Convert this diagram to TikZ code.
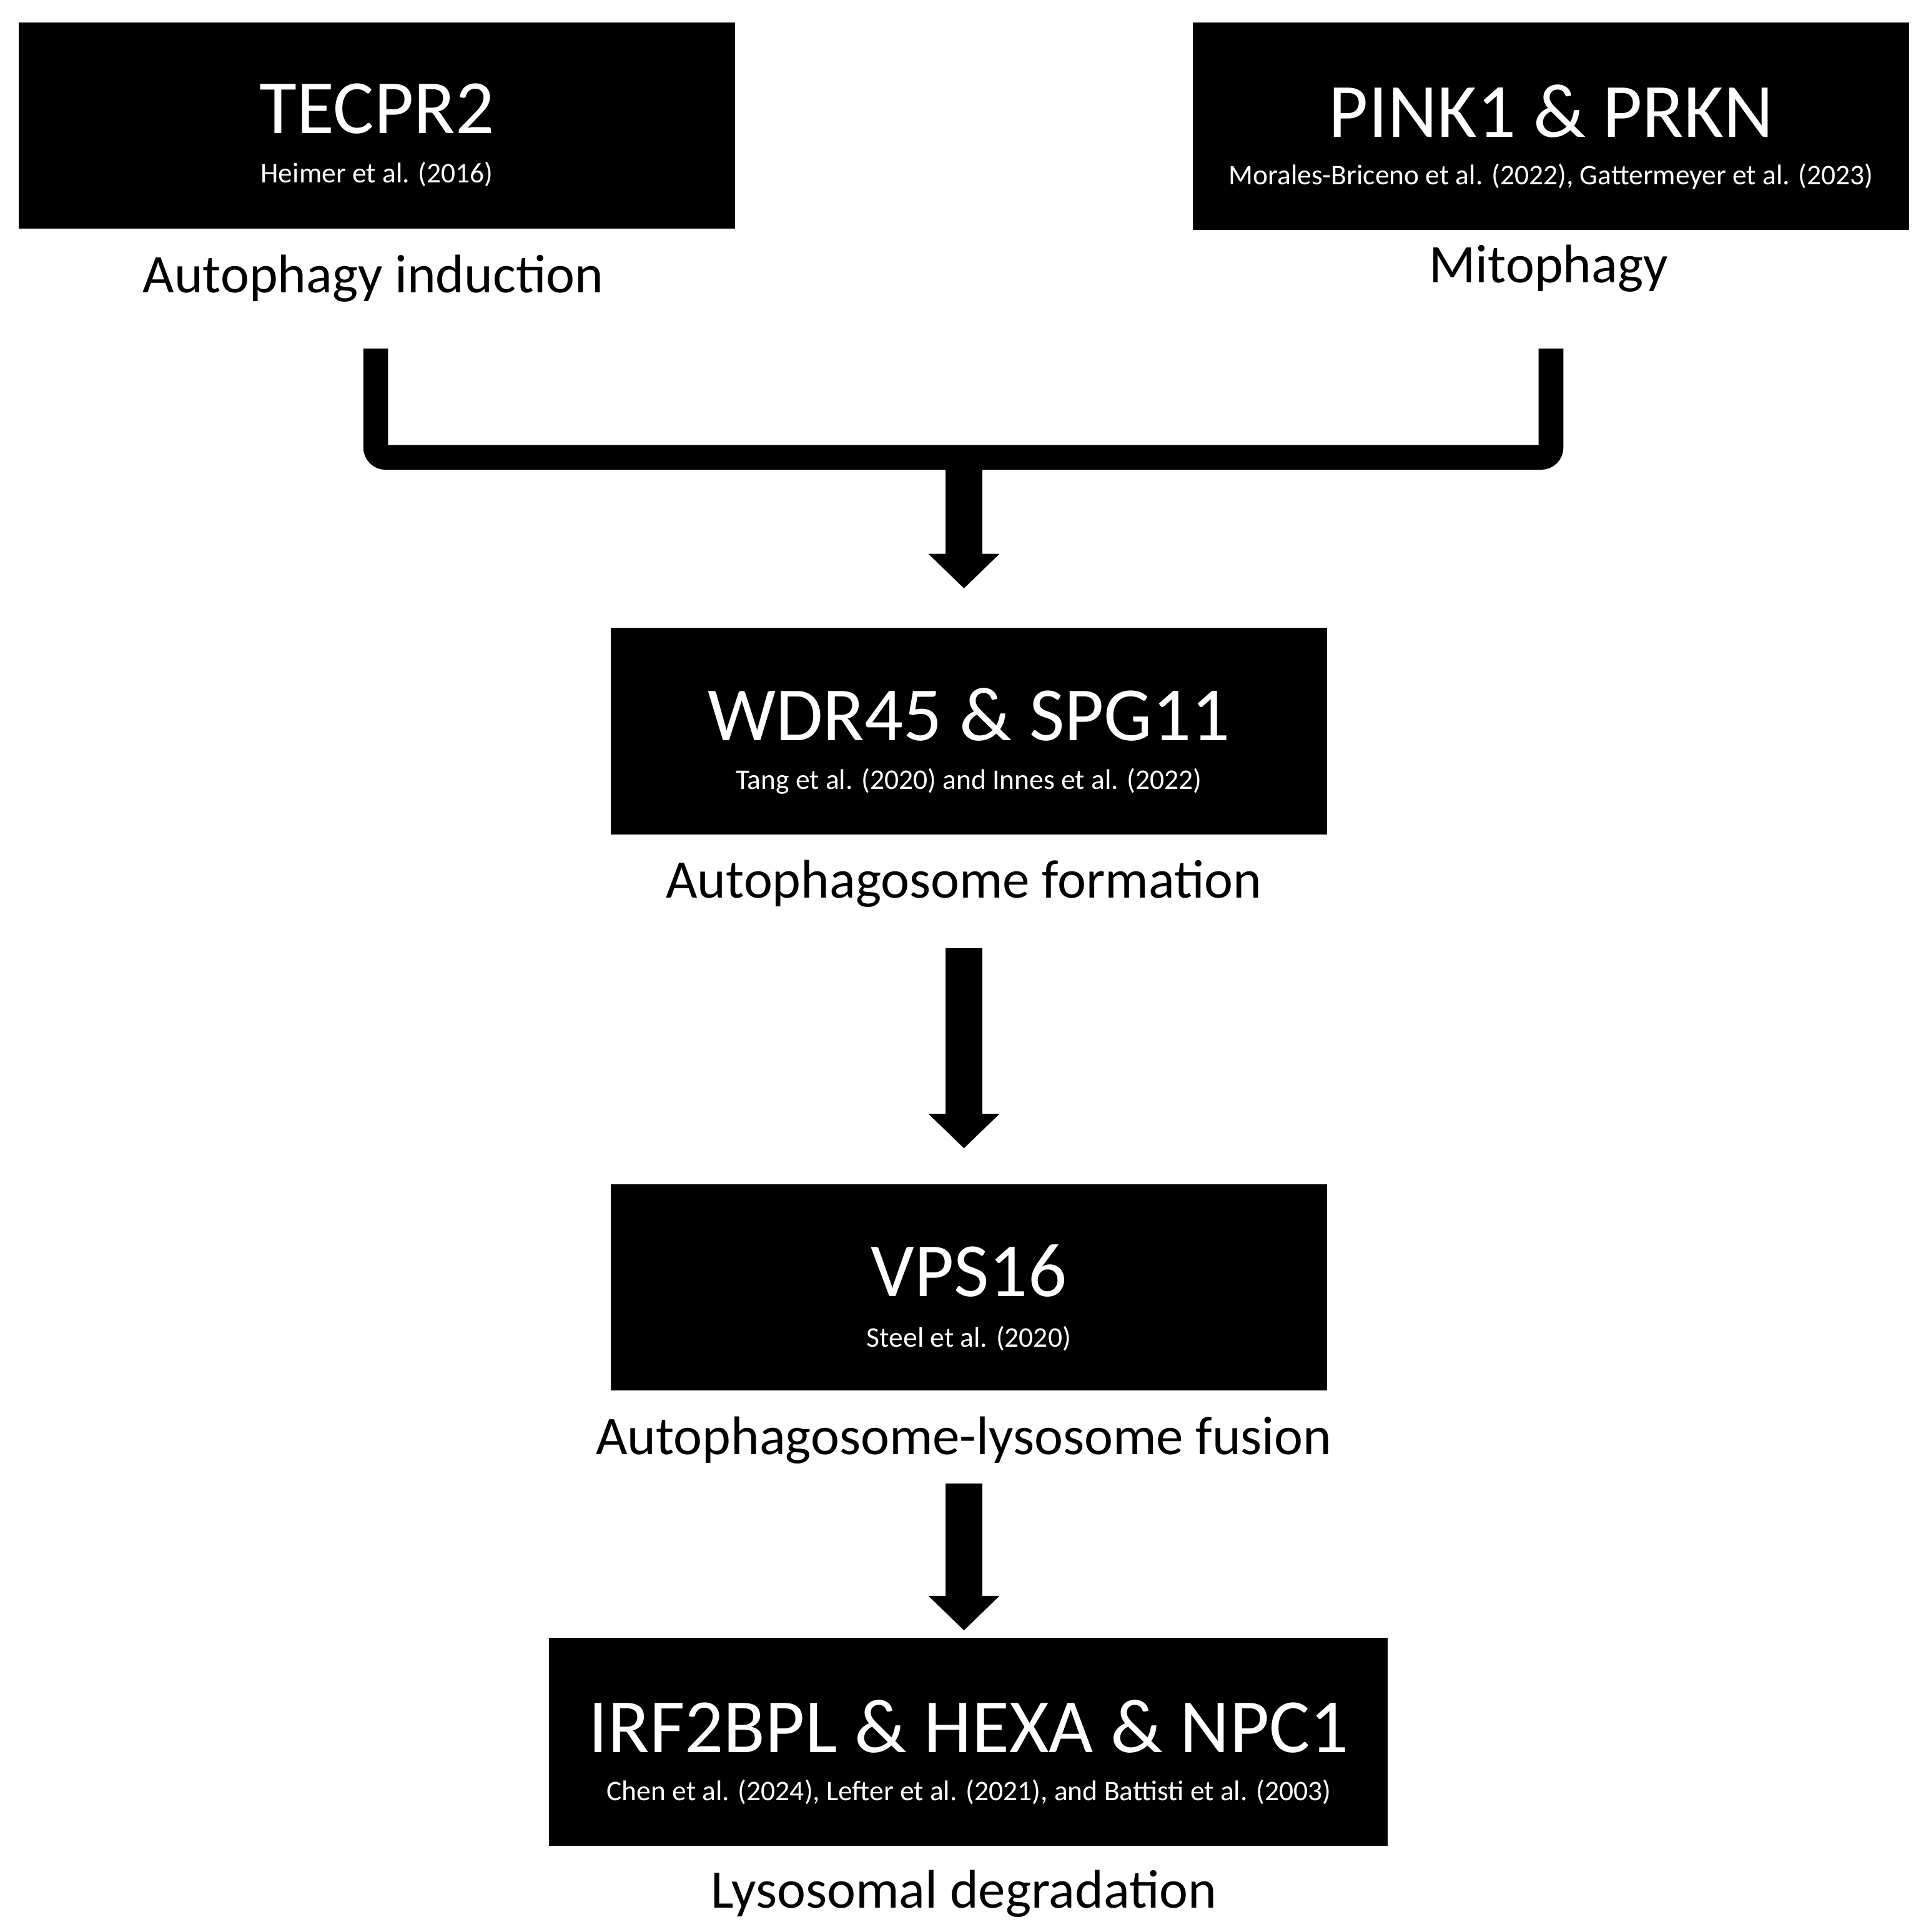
\documentclass[tikz,border=0pt]{standalone}
\usepackage{fontspec}
\setmainfont{Carlito}
\begin{document}
\begin{tikzpicture}[x=0.5pt,y=-0.5pt,
 box/.style={fill=black,inner sep=0pt},
 ttl/.style={text=white,font=\fontsize{31}{31}\selectfont,anchor=center},
 cite/.style={text=white,font=\fontsize{11.5}{12}\selectfont,anchor=center},
 lab/.style={font=\fontsize{22}{22}\selectfont,anchor=center},
 arr/.style={line width=15pt,-{Triangle[width=28pt,length=14pt]}}]
\useasboundingbox (0,0) rectangle (1558,1563);
\usetikzlibrary{arrows.meta}
\fill (15,18) rectangle (595,185);
\node[ttl] (t1) at (305,88) {TECPR2};
\node[cite] (c1) at (305,141) {Heimer et al. (2016)};
\node[lab] (l1) at (302,225) {Autophagy induction};
\fill (965,18) rectangle (1545,186);
\node[ttl] (t2) at (1255,90) {PINK1 \& PRKN};
\node[cite] (c2) at (1255,143) {Morales-Briceno et al. (2022), Gattermeyer et al. (2023)};
\node[lab] (l2) at (1253,217) {Mitophagy};
\coordinate (a) at (304,282); \coordinate (b) at (304,370);
\coordinate (c) at (1255,370); \coordinate (d) at (1255,282);
\draw[line width=10pt,rounded corners=4pt] (a) -- (b) -- (c) -- (d);
\fill (494,508) rectangle (1074,675);
\node[ttl] (t3) at (784,578) {WDR45 \& SPG11};
\node[cite] (c3) at (784,632) {Tang et al. (2020) and Innes et al. (2022)};
\node[lab] (l3) at (780,715) {Autophagosome formation};
\fill (494,958) rectangle (1074,1125);
\node[ttl] (t4) at (784,1028) {VPS16};
\node[cite] (c4) at (784,1083) {Steel et al. (2020)};
\node[lab] (l4) at (780,1165) {Autophagosome-lysosome fusion};
\fill (444,1325) rectangle (1123,1493);
\node[ttl] (t5) at (784,1397) {IRF2BPL \& HEXA \& NPC1};
\node[cite] (c5) at (784,1450) {Chen et al. (2024), Lefter et al. (2021), and Battisti et al. (2003)};
\node[lab] (l5) at (780,1532) {Lysosomal degradation};
\coordinate (s1) at (780,380); \coordinate (e1) at (780,476);
\coordinate (s2) at (780,767); \coordinate (e2) at (780,929);
\coordinate (s3) at (780,1200); \coordinate (e3) at (780,1319);
\draw[arr] (s1) -- (e1);
\draw[arr] (s2) -- (e2);
\draw[arr] (s3) -- (e3);
\end{tikzpicture}
\end{document}
